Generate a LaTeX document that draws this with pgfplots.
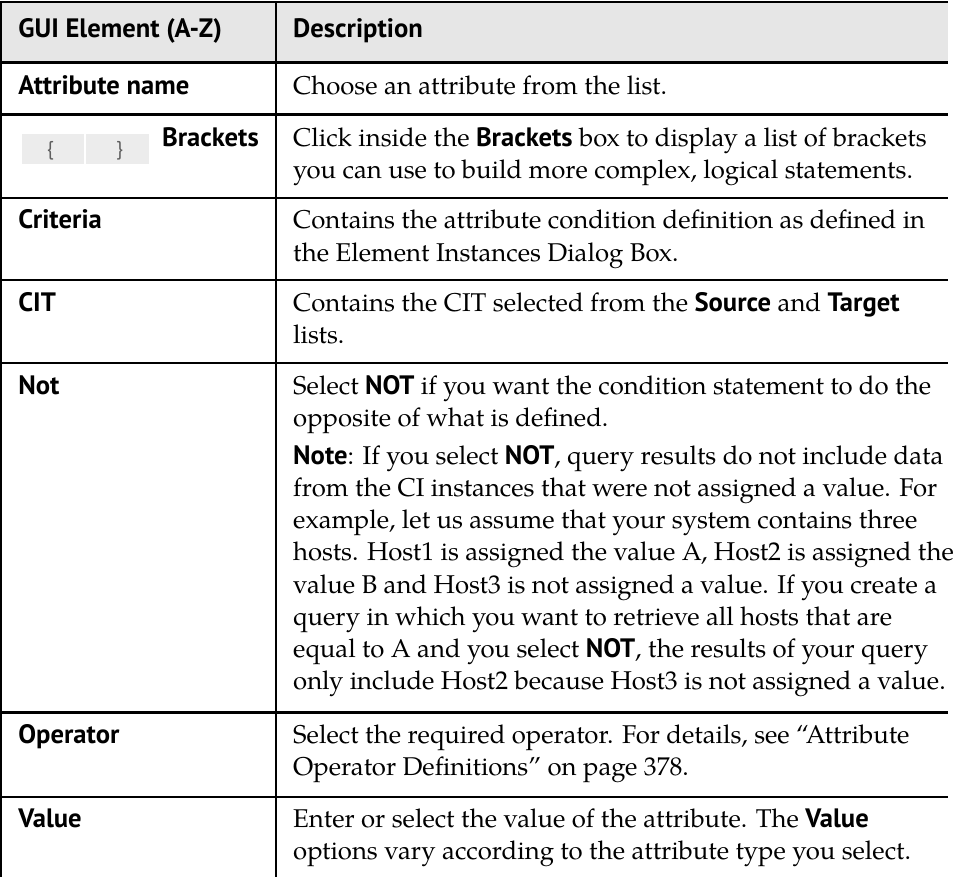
\documentclass[border=0pt]{standalone}
\usepackage{fontspec}
\usepackage{pgfplots}
\pgfplotsset{compat=1.18}
\setmainfont{texgyrepagella}[Extension=.otf, UprightFont=*-regular, BoldFont=*-bold, ItalicFont=*-italic, BoldItalicFont=*-bolditalic]
\newfontfamily\sfam{PT Sans}
\definecolor{hdr}{RGB}{230,230,230}
\definecolor{icon}{RGB}{236,236,236}
\definecolor{brace}{RGB}{95,95,95}
\newlength\tmpw
\newcommand\rmf{\fontsize{\rmsz pt}{\rmsz pt}\selectfont}
\newcommand\sff{\sfam\bfseries\fontsize{\sfsz pt}{\sfsz pt}\selectfont}
\newcommand\B[1]{{\sff #1}}
\begin{document}
\settowidth\tmpw{\fontsize{10pt}{12pt}\selectfont Contains the attribute condition definition as defined in}%
\pgfmathsetmacro\rmsz{10*630/\tmpw}%
\settowidth\tmpw{\sfam\bfseries\fontsize{10pt}{12pt}\selectfont GUI Element (A-Z)}%
\pgfmathsetmacro\sfsz{10*203/\tmpw}%
\begin{tikzpicture}
\begin{axis}[width=954pt, height=877pt, scale only axis,
  xmin=0, xmax=954, ymin=0, ymax=877, y dir=reverse,
  axis lines=none, ticks=none, clip=false]
% header background
\addplot[fill=hdr, draw=none] coordinates {(10,5) (954,5) (954,65) (10,65)} -- cycle;
% bracket icon boxes
\addplot[fill=icon, draw=none] coordinates {(31,136) (92.5,136) (92.5,166) (31,166)} -- cycle;
\addplot[fill=icon, draw=none] coordinates {(94.5,136) (157,136) (157,166) (94.5,166)} -- cycle;
% horizontal rules
\addplot[black, line width=2.2pt] coordinates {(10,5) (954,5)};
\addplot[black, line width=2.2pt] coordinates {(10,65) (954,65)};
\addplot[black, line width=2.2pt] coordinates {(10,117) (954,117)};
\addplot[black, line width=2.2pt] coordinates {(10,200) (954,200)};
\addplot[black, line width=2.2pt] coordinates {(10,282) (954,282)};
\addplot[black, line width=2.2pt] coordinates {(10,365) (954,365)};
\addplot[black, line width=2.2pt] coordinates {(10,713) (954,713)};
\addplot[black, line width=2.2pt] coordinates {(10,797) (954,797)};
% vertical rules
\addplot[black, line width=2.2pt] coordinates {(10,3.9) (10,877)};
\addplot[black, line width=2.2pt] coordinates {(284,3.9) (284,877)};
% braces in icon
\node[anchor=base, inner sep=0, text=brace, font=\sfam\fontsize{20pt}{20pt}\selectfont] at (axis cs:59,158) {\{};
\node[anchor=base, inner sep=0, text=brace, font=\sfam\fontsize{20pt}{20pt}\selectfont] at (axis cs:128,158) {\}};
% header
\node[anchor=base west, inner sep=0, font=\sff] at (axis cs:27,40) {GUI Element (A-Z)};
\node[anchor=base west, inner sep=0, font=\sff] at (axis cs:301,40) {Description};
% first column
\node[anchor=base west, inner sep=0, font=\sff] at (axis cs:27,97) {Attribute name};
\node[anchor=base east, inner sep=0, font=\sff] at (axis cs:267,149) {Brackets};
\node[anchor=base west, inner sep=0, font=\sff] at (axis cs:27,231) {Criteria};
\node[anchor=base west, inner sep=0, font=\sff] at (axis cs:27,313) {CIT};
\node[anchor=base west, inner sep=0, font=\sff] at (axis cs:27,396) {Not};
\node[anchor=base west, inner sep=0, font=\sff] at (axis cs:27,744) {Operator};
\node[anchor=base west, inner sep=0, font=\sff] at (axis cs:27,828) {Value};
% descriptions
\node[anchor=base west, inner sep=0, font=\rmf] at (axis cs:301,97) {Choose an attribute from the list.};
\node[anchor=base west, inner sep=0, font=\rmf] at (axis cs:301,149) {Click inside the \B{Brackets} box to display a list of brackets};
\node[anchor=base west, inner sep=0, font=\rmf] at (axis cs:301,181) {you can use to build more complex, logical statements.};
\node[anchor=base west, inner sep=0, font=\rmf] at (axis cs:301,231) {Contains the attribute condition definition as defined in};
\node[anchor=base west, inner sep=0, font=\rmf] at (axis cs:301,263) {the Element Instances Dialog Box.};
\node[anchor=base west, inner sep=0, font=\rmf] at (axis cs:301,313) {Contains the CIT selected from the \B{Source} and \B{Target}};
\node[anchor=base west, inner sep=0, font=\rmf] at (axis cs:301,345) {lists.};
\node[anchor=base west, inner sep=0, font=\rmf] at (axis cs:301,396) {Select \B{NOT} if you want the condition statement to do the};
\node[anchor=base west, inner sep=0, font=\rmf] at (axis cs:301,428) {opposite of what is defined.};
\node[anchor=base west, inner sep=0, font=\rmf] at (axis cs:301,466) {\B{Note}: If you select \B{NOT}, query results do not include data};
\node[anchor=base west, inner sep=0, font=\rmf] at (axis cs:301,498) {from the CI instances that were not assigned a value. For};
\node[anchor=base west, inner sep=0, font=\rmf] at (axis cs:301,530) {example, let us assume that your system contains three};
\node[anchor=base west, inner sep=0, font=\rmf] at (axis cs:301,562) {hosts. Host1 is assigned the value A, Host2 is assigned the};
\node[anchor=base west, inner sep=0, font=\rmf] at (axis cs:301,594) {value B and Host3 is not assigned a value. If you create a};
\node[anchor=base west, inner sep=0, font=\rmf] at (axis cs:301,626) {query in which you want to retrieve all hosts that are};
\node[anchor=base west, inner sep=0, font=\rmf] at (axis cs:301,658) {equal to A and you select \B{NOT}, the results of your query};
\node[anchor=base west, inner sep=0, font=\rmf] at (axis cs:301,690) {only include Host2 because Host3 is not assigned a value.};
\node[anchor=base west, inner sep=0, font=\rmf] at (axis cs:301,744) {Select the required operator. For details, see “Attribute};
\node[anchor=base west, inner sep=0, font=\rmf] at (axis cs:301,776) {Operator Definitions” on page 378.};
\node[anchor=base west, inner sep=0, font=\rmf] at (axis cs:301,828) {Enter or select the value of the attribute. The \B{Value}};
\node[anchor=base west, inner sep=0, font=\rmf] at (axis cs:301,860) {options vary according to the attribute type you select.};
\end{axis}
\end{tikzpicture}
\end{document}
